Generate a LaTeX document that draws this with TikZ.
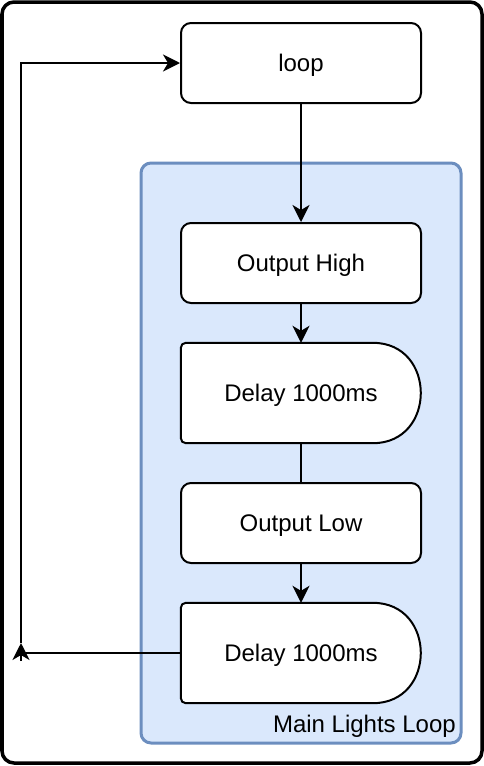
\documentclass[tikz,border=0pt]{standalone}
\usepackage{fontspec}
\setmainfont{Liberation Sans}
\usetikzlibrary{arrows.meta,calc}
\definecolor{grpfill}{HTML}{DAE8FC}
\definecolor{grpline}{HTML}{6C8EBF}
\tikzset{
  proc/.style={draw=black, line width=2pt, fill=white, rounded corners=10pt,
    minimum width=240pt, minimum height=80pt, inner sep=0pt},
  dlay/.style={minimum width=240pt, minimum height=100pt, inner sep=0pt},
  conn/.style={line width=2pt, draw=black},
  arr/.style={conn, -{Stealth[length=17pt, width=17pt, inset=5pt]}},
  txt/.style={font=\fontsize{24pt}{29pt}\selectfont, text height=17.2pt, text depth=0pt}
}
\begin{document}
\begin{tikzpicture}[x=1pt, y=-1pt]
\useasboundingbox (0,0) rectangle (484,766);
% outer frame
\draw[line width=3.5pt, rounded corners=12pt, fill=white] (2,2) rectangle (482,763);
% group
\draw[line width=3pt, draw=grpline, fill=grpfill, rounded corners=10pt] (141,163) rectangle (461,743);
\node[font=\fontsize{24pt}{29pt}\selectfont, anchor=base east, inner sep=0pt] (grplabel) at (456,732) {Main Lights Loop};
% boxes
\node[proc, txt] (loop) at (301,63) {loop};
\node[proc, txt] (oh) at (301,263) {Output High};
\node[dlay] (d1) at (301,393) {};
\node[proc, txt] (ol) at (301,523) {Output Low};
\node[dlay] (d2) at (301,653) {};
% delay shapes
\foreach \n in {d1,d2}{
  \draw[line width=2pt, fill=white]
    ([xshift=192pt]\n.south west) [rounded corners=5pt] -- (\n.south west) -- (\n.north west)
    [sharp corners] -- ([xshift=192pt]\n.north west)
    .. controls ([xshift=256pt]\n.north west) and ([xshift=256pt]\n.south west) .. ([xshift=192pt]\n.south west) -- cycle;
}
\node[txt, inner sep=0pt] (d1t) at (d1.center) {Delay 1000ms};
\node[txt, inner sep=0pt] (d2t) at (d2.center) {Delay 1000ms};
% connectors
\draw[arr] (loop.south) -- (oh.north);
\draw[arr] (oh.south) -- (d1.north);
\draw[conn] (d1.south) -- (ol.north);
\draw[arr] (ol.south) -- (d2.north);
\coordinate (c1) at (21,653);
\coordinate (c0) at (21,661);
\coordinate (c2) at (21,643);
\draw[conn] (d2.west) -- (c1);
\draw[arr] (c0) -- (c2);
\draw[arr] (c2) |- (loop.west);
\end{tikzpicture}
\end{document}
